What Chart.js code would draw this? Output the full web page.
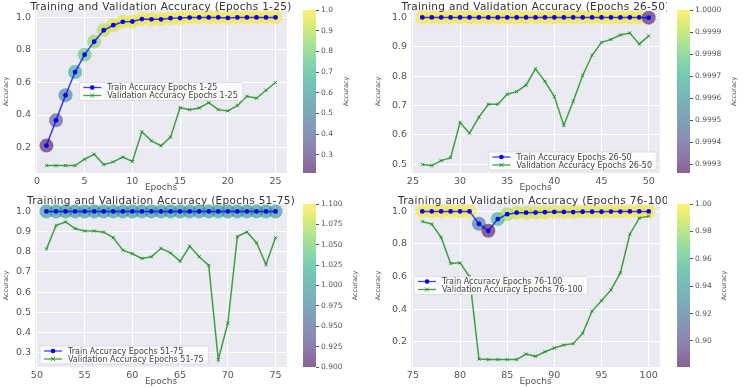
<!DOCTYPE html>
<html>
<head>
<meta charset="utf-8">
<script src="https://cdn.jsdelivr.net/npm/chart.js@4.4.0/dist/chart.umd.min.js"></script>
<style>
  body { margin: 0; background: #fff; }
  #wrap { position: relative; width: 744px; height: 388px; overflow: hidden; }
  #wrap canvas { position: absolute; }
</style>
</head>
<body>
<div id="wrap"></div>
<script>
// data
var epochs1 = [1,2,3,4,5,6,7,8,9,10,11,12,13,14,15,16,17,18,19,20,21,22,23,24,25];
var train1 = [0.212,0.367,0.522,0.664,0.771,0.851,0.921,0.952,0.973,0.975,0.990,0.988,0.988,0.995,0.996,0.999,1.0,1.0,1.0,0.997,1.0,1.0,1.0,1.0,1.0];
var val1 = [0.089,0.089,0.089,0.089,0.128,0.159,0.095,0.112,0.141,0.114,0.297,0.241,0.211,0.264,0.445,0.433,0.443,0.476,0.433,0.425,0.458,0.515,0.503,0.552,0.600];

var epochs2 = [26,27,28,29,30,31,32,33,34,35,36,37,38,39,40,41,42,43,44,45,46,47,48,49,50];
var train2 = [1,1,1,1,1,1,1,1,1,1,1,1,1,1,1,1,1,1,1,1,1,1,1,1,0.99926];
var val2 = [0.499,0.495,0.512,0.522,0.642,0.605,0.660,0.704,0.704,0.738,0.747,0.769,0.825,0.782,0.730,0.632,0.714,0.802,0.871,0.915,0.925,0.940,0.947,0.909,0.937];

var epochs3 = [51,52,53,54,55,56,57,58,59,60,61,62,63,64,65,66,67,68,69,70,71,72,73,74,75];
var train3 = [1,1,1,1,1,1,1,1,1,1,1,1,1,1,1,1,1,1,1,1,1,1,1,1,1];
var val3 = [0.813,0.930,0.948,0.915,0.903,0.903,0.897,0.870,0.808,0.790,0.767,0.775,0.817,0.794,0.752,0.827,0.775,0.732,0.265,0.445,0.875,0.898,0.845,0.737,0.870];

var epochs4 = [76,77,78,79,80,81,82,83,84,85,86,87,88,89,90,91,92,93,94,95,96,97,98,99,100];
var train4 = [1,1,1,1,1,1,0.924,0.881,0.953,0.983,0.992,0.992,0.993,0.995,0.997,0.997,0.996,0.998,0.998,0.998,0.999,0.999,1.0,1.0,1.0];
var val4 = [0.938,0.922,0.840,0.680,0.684,0.600,0.093,0.090,0.090,0.090,0.090,0.124,0.110,0.138,0.161,0.179,0.188,0.251,0.388,0.452,0.518,0.622,0.860,0.959,0.971];

var xTicks1 = [0,5,10,15,20,25];
var xTicks2 = [25,30,35,40,45,50];
var xTicks3 = [50,55,60,65,70,75];
var xTicks4 = [75,80,85,90,95,100];
var yTicks1 = [0.2,0.4,0.6,0.8,1.0];
var yTicks2 = [0.5,0.6,0.7,0.8,0.9,1.0];
var yTicks3 = [0.3,0.4,0.5,0.6,0.7,0.8,0.9,1.0];
var yTicks4 = [0.2,0.4,0.6,0.8,1.0];
var cbTicks1 = [0.3,0.4,0.5,0.6,0.7,0.8,0.9,1.0];
var cbTicks2 = [0.9993,0.9994,0.9995,0.9996,0.9997,0.9998,0.9999,1.0];
var cbTicks3 = [0.9,0.925,0.95,0.975,1.0,1.025,1.05,1.075,1.1];
var cbTicks4 = [0.90,0.92,0.94,0.96,0.98,1.00];

var FONT = '"DejaVu Sans", sans-serif';
var VIR = [[68,1,84],[72,36,117],[65,68,135],[53,95,141],[42,120,142],[33,145,140],[34,168,132],[68,191,112],[122,209,81],[189,223,38],[253,231,37]];

function viridis(t, a) {
  t = Math.max(0, Math.min(1, t));
  var i = Math.min(9, Math.floor(t * 10)), f = t * 10 - i;
  var c0 = VIR[i], c1 = VIR[i + 1];
  var c = [0,1,2].map(function(k){ return Math.round(c0[k] + (c1[k] - c0[k]) * f); });
  return 'rgba(' + c[0] + ',' + c[1] + ',' + c[2] + ',' + a + ')';
}

function addCanvas(x, y, w, h) {
  var c = document.createElement('canvas');
  c.width = w; c.height = h;
  c.style.left = x + 'px'; c.style.top = y + 'px';
  c.style.width = w + 'px'; c.style.height = h + 'px';
  document.getElementById('wrap').appendChild(c);
  return c;
}

function pts(xs, ys) {
  return xs.map(function(x, i){ return {x: x, y: ys[i]}; });
}

// plot background
var bgPlugin = {
  id: 'bg',
  beforeDraw: function(chart) {
    var a = chart.chartArea, ctx = chart.ctx;
    ctx.save();
    ctx.fillStyle = '#eaeaf2';
    ctx.fillRect(a.left, a.top, a.right - a.left, a.bottom - a.top);
    ctx.restore();
  }
};

// title above axes
var titlePlugin = {
  id: 'axTitle',
  afterDraw: function(chart, args, o) {
    var a = chart.chartArea, ctx = chart.ctx;
    ctx.save();
    ctx.font = '10.5px ' + FONT;
    ctx.letterSpacing = '0.3px';
    ctx.fillStyle = '#333';
    ctx.textAlign = 'center';
    ctx.textBaseline = 'alphabetic';
    ctx.fillText(o.text, (a.left + a.right) / 2, a.top - 0.5);
    ctx.restore();
  }
};

// legend box inside the axes
var legendPlugin = {
  id: 'boxLegend',
  afterDraw: function(chart, args, o) {
    var a = chart.chartArea, ctx = chart.ctx;
    var items = chart.data.datasets.filter(function(d){ return d.inLegend; });
    ctx.save();
    ctx.font = '8px ' + FONT;
    var tw = 0;
    items.forEach(function(d){ tw = Math.max(tw, ctx.measureText(d.label).width); });
    var rowH = 8, w = 4 + 18 + 6 + tw + 5, h = items.length * rowH + 2, pad = 3;
    var x, y;
    if (o.loc === 'center') { x = (a.left + a.right - w) / 2; y = (a.top + a.bottom - h) / 2; }
    else if (o.loc === 'center left') { x = a.left + pad; y = (a.top + a.bottom - h) / 2; }
    else if (o.loc === 'lower right') { x = a.right - pad - w; y = a.bottom - pad - h; }
    else { x = a.left + pad + 2; y = a.bottom - pad - h; }
    ctx.fillStyle = 'rgba(255,255,255,0.8)';
    ctx.strokeStyle = '#d6d6dc';
    ctx.lineWidth = 0.8;
    ctx.beginPath();
    ctx.roundRect(x, y, w, h, 2);
    ctx.fill(); ctx.stroke();
    items.forEach(function(d, i) {
      var cy = y + 1 + rowH * i + rowH / 2;
      ctx.strokeStyle = d.borderColor;
      ctx.lineWidth = 1.3;
      ctx.beginPath(); ctx.moveTo(x + 4, cy); ctx.lineTo(x + 22, cy); ctx.stroke();
      if (d.pointStyle === 'crossRot') {
        ctx.strokeStyle = d.pointBorderColor; ctx.lineWidth = 1;
        ctx.beginPath();
        ctx.moveTo(x + 11, cy - 2); ctx.lineTo(x + 15, cy + 2);
        ctx.moveTo(x + 11, cy + 2); ctx.lineTo(x + 15, cy - 2);
        ctx.stroke();
      } else {
        ctx.fillStyle = d.pointBackgroundColor;
        ctx.beginPath(); ctx.arc(x + 13, cy, 2.3, 0, Math.PI * 2); ctx.fill();
      }
      ctx.fillStyle = '#444';
      ctx.textBaseline = 'middle';
      ctx.fillText(d.label, x + 28, cy + 0.5);
    });
    ctx.restore();
  }
};

// colorbar fill + rotated label
var cbarPlugin = {
  id: 'cbar',
  beforeDatasetsDraw: function(chart) {
    var a = chart.chartArea, ctx = chart.ctx;
    var g = ctx.createLinearGradient(0, a.bottom, 0, a.top);
    for (var i = 0; i <= 20; i++) g.addColorStop(i / 20, viridis(i / 20, 0.62));
    ctx.save();
    ctx.fillStyle = g;
    ctx.fillRect(a.left, a.top, a.right - a.left, a.bottom - a.top);
    ctx.restore();
  },
  afterDraw: function(chart, args, o) {
    var a = chart.chartArea, ctx = chart.ctx, s = chart.scales.y;
    ctx.save();
    ctx.font = '7.5px ' + FONT;
    var mw = 0;
    s.ticks.forEach(function(t){ mw = Math.max(mw, ctx.measureText(o.fmt(t.value)).width); });
    ctx.font = '6.5px ' + FONT;
    ctx.fillStyle = '#555';
    ctx.translate(a.right + 5 + mw + 13, (a.top + a.bottom) / 2);
    ctx.rotate(-Math.PI / 2);
    ctx.textAlign = 'center';
    ctx.textBaseline = 'middle';
    ctx.fillText(o.text, 0, 0);
    ctx.restore();
  }
};

function makePanel(p) {
  var cv = addCanvas(p.x, p.y, 295, 194);
  var all = p.train.concat(p.val);
  var lo = Math.min.apply(null, all), hi = Math.max.apply(null, all), m = (hi - lo) * 0.05;
  var x0 = p.epochs[0], x1 = p.epochs[p.epochs.length - 1], xm = (x1 - x0) * 0.05;
  var cMin = Math.min.apply(null, p.train), cMax = Math.max.apply(null, p.train);
  if (cMax - cMin < 1e-9) { cMin -= 0.1; cMax += 0.1; }
  var green = 'rgba(20,140,20,0.8)';

  new Chart(cv, {
    type: 'scatter',
    data: {
      datasets: [{
        label: 'Train Accuracy Epochs ' + p.tag,
        data: pts(p.epochs, p.train),
        showLine: true, borderColor: 'rgba(0,0,255,0.75)', borderWidth: 1.5,
        pointRadius: 2.4, pointBackgroundColor: '#0000ff', pointBorderWidth: 0,
        inLegend: true, order: 0
      }, {
        label: 'Validation Accuracy Epochs ' + p.tag,
        data: pts(p.epochs, p.val),
        showLine: true, borderColor: green, borderWidth: 1.5,
        pointStyle: 'crossRot', pointRadius: 2.3, pointBorderColor: green, pointBorderWidth: 1,
        inLegend: true, order: 1
      }, {
        label: 'colour',
        data: pts(p.epochs, p.train),
        pointRadius: 7, pointBorderWidth: 0,
        pointBackgroundColor: p.train.map(function(v){ return viridis((v - cMin) / (cMax - cMin), 0.58); }),
        order: 2
      }]
    },
    options: {
      responsive: false, animation: false,
      layout: { padding: { top: 10, right: p.padR, left: 0, bottom: 0 } },
      plugins: {
        legend: { display: false }, tooltip: { enabled: false },
        axTitle: { text: 'Training and Validation Accuracy (Epochs ' + p.tag + ')' },
        boxLegend: { loc: p.loc }
      },
      scales: {
        x: {
          type: 'linear', min: x0 - xm, max: x1 + xm,
          afterBuildTicks: function(s){ s.ticks = p.xTicks.map(function(v){ return {value: v}; }); },
          afterFit: function(s){ s.height = 21; },
          grid: { color: '#fff', lineWidth: 1, drawTicks: false },
          border: { display: false },
          ticks: { padding: 3, color: '#555', autoSkip: false, maxRotation: 0, font: { family: FONT, size: 9.5 } },
          title: { display: true, text: 'Epochs', color: '#555', font: { family: FONT, size: 9 }, padding: { top: 0, bottom: 1 } }
        },
        y: {
          min: lo - m, max: hi + m,
          afterBuildTicks: function(s){ s.ticks = p.yTicks.map(function(v){ return {value: v}; }); },
          afterFit: function(s){ s.width = p.yW; },
          grid: { color: '#fff', lineWidth: 1, drawTicks: false },
          border: { display: false },
          ticks: { padding: 4, color: '#555', autoSkip: false, font: { family: FONT, size: 9.5 },
                   callback: function(v){ return v.toFixed(1); } },
          title: { display: true, text: 'Accuracy', color: '#555', font: { family: FONT, size: 6.5 }, padding: { top: 2, bottom: 0 } }
        }
      }
    },
    plugins: [bgPlugin, titlePlugin, legendPlugin]
  });

  var fmt = function(v){ return v.toFixed(p.cbDec); };
  var cb = addCanvas(p.cbX, p.y, p.cbW, 194);
  new Chart(cb, {
    type: 'scatter',
    data: { datasets: [] },
    options: {
      responsive: false, animation: false,
      layout: { padding: { top: 10, bottom: 21, left: 0, right: 0 } },
      plugins: { legend: { display: false }, tooltip: { enabled: false }, cbar: { text: 'Accuracy', fmt: fmt } },
      scales: {
        x: { display: false, min: 0, max: 1 },
        y: {
          position: 'right', min: cMin, max: cMax,
          afterBuildTicks: function(s){ s.ticks = p.cbTicks.map(function(v){ return {value: v}; }); },
          afterFit: function(s){ s.width = p.cbW - 13; },
          grid: { drawOnChartArea: false, drawTicks: true, tickLength: 3, color: '#555' },
          border: { display: false },
          ticks: { padding: 2, color: '#555', autoSkip: false, font: { family: FONT, size: 7.5 }, callback: fmt }
        }
      }
    },
    plugins: [cbarPlugin]
  });
}

makePanel({ x: 0, y: 0, yW: 35, padR: 8, cbX: 303, cbW: 69, tag: '1-25', loc: 'center',
  epochs: epochs1, train: train1, val: val1, xTicks: xTicks1, yTicks: yTicks1, cbTicks: cbTicks1, cbDec: 1 });
makePanel({ x: 372, y: 0, yW: 39, padR: 7, cbX: 677, cbW: 67, tag: '26-50', loc: 'lower right',
  epochs: epochs2, train: train2, val: val2, xTicks: xTicks2, yTicks: yTicks2, cbTicks: cbTicks2, cbDec: 4 });
makePanel({ x: 0, y: 194, yW: 35, padR: 8, cbX: 303, cbW: 69, tag: '51-75', loc: 'lower left',
  epochs: epochs3, train: train3, val: val3, xTicks: xTicks3, yTicks: yTicks3, cbTicks: cbTicks3, cbDec: 3 });
makePanel({ x: 372, y: 194, yW: 39, padR: 7, cbX: 677, cbW: 67, tag: '76-100', loc: 'center left',
  epochs: epochs4, train: train4, val: val4, xTicks: xTicks4, yTicks: yTicks4, cbTicks: cbTicks4, cbDec: 2 });
</script>
</body>
</html>
